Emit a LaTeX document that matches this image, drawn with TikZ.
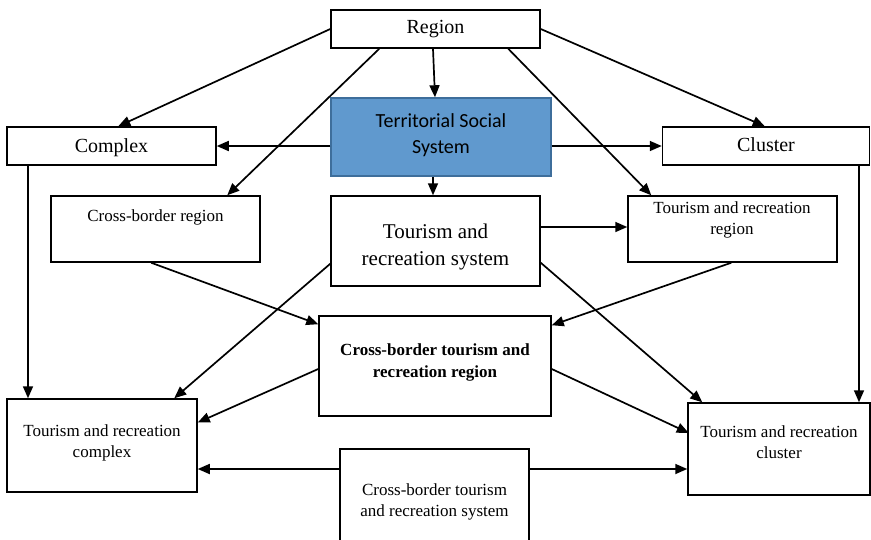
\documentclass[tikz,border=0pt]{standalone}
\usepackage{fontspec}
\setmainfont{Liberation Serif}
\newfontfamily\calibri{Carlito}
\usetikzlibrary{arrows.meta,calc}
\definecolor{tssfill}{RGB}{96,153,206}
\definecolor{tssdraw}{RGB}{62,110,155}
\begin{document}
\begin{tikzpicture}[x=1pt,y=-1pt,
  box/.style={draw=black,line width=1.5pt,rectangle,inner sep=0pt,anchor=center},
  txt/.style={inner sep=0pt,anchor=base,align=center},
  big/.style={font=\fontsize{20}{26}\selectfont},
  mid/.style={font=\fontsize{21}{27}\selectfont},
  small/.style={font=\fontsize{17}{21}\selectfont},
  conn/.style={line width=1.7pt,-{Triangle[length=12pt,width=10pt]}}]
\useasboundingbox (0,0) rectangle (871,539);
\clip (0,0) rectangle (871,539);
% boxes
\node[box,minimum width=209pt,minimum height=38pt] (region) at (435.5,29) {};
\node[box,fill=tssfill,draw=tssdraw,minimum width=220pt,minimum height=78pt] (tss) at (441,137) {};
\node[box,minimum width=209pt,minimum height=38pt] (complex) at (111.5,146) {};
\node[box,minimum width=207pt,minimum height=38pt] (cluster) at (766,146) {};
\node[box,minimum width=209pt,minimum height=66pt] (cbregion) at (155.5,229) {};
\node[box,minimum width=209pt,minimum height=66pt] (trregion) at (732.5,229) {};
\node[box,minimum width=209pt,minimum height=90pt] (trsystem) at (435.5,241) {};
\node[box,minimum width=232pt,minimum height=100pt] (cbtrregion) at (435,366) {};
\node[box,minimum width=190pt,minimum height=93pt] (trcomplex) at (102,445.5) {};
\node[box,minimum width=182pt,minimum height=92pt] (trcluster) at (779,449) {};
\node[box,minimum width=189pt,minimum height=100pt] (cbtrsystem) at (434.5,499) {};
% texts (base anchor = last line baseline)
\node[txt,big] (tregion) at (435.5,33) {Region};
\node[txt,font=\calibri\fontsize{20}{26}\selectfont] (ttss) at (441,153) {Territorial Social\\System};
\node[txt,big] (tcomplex) at (111.5,152) {Complex};
\node[txt,big] (tcluster) at (766,151) {Cluster};
\node[txt,small] (tcbregion) at (155.5,221) {Cross-border region};
\node[txt,small] (ttrregion) at (732,234) {Tourism and recreation\\region};
\node[txt,mid] (ttrsystem) at (435.5,265) {Tourism and\\recreation system};
\node[txt,font=\bfseries\fontsize{17}{22}\selectfont] (tcbtrregion) at (435,377) {Cross-border tourism and\\recreation region};
\node[txt,small] (ttrcomplex) at (102,457) {Tourism and recreation\\complex};
\node[txt,small] (ttrcluster) at (779,458) {Tourism and recreation\\cluster};
\node[txt,small] (tcbtrsystem) at (434.5,516) {Cross-border tourism\\and recreation system};
% connectors
\draw[conn] (region.west) -- ($(complex.north west)+(112,0)$);
\draw[conn] ($(region.south west)+(49,0)$) -- ($(cbregion.north west)+(177,0)$);
\draw[conn] ($(region.south)+(-2.5,0)$) -- ($(tss.north)+(-6,0)$);
\draw[conn] ($(region.south west)+(178,0)$) -- ($(trregion.north west)+(24,0)$);
\draw[conn] (region.east) -- ($(cluster.north west)+(103,0)$);
\draw[conn] (tss.west |- complex.east) -- (complex.east);
\draw[conn] (tss.east |- cluster.west) -- (cluster.west);
\draw[conn] ($(tss.south)+(-8,0)$) -- ($(trsystem.north)+(-2.5,0)$);
\draw[conn] ($(trsystem.east)+(0,-14)$) -- ($(trregion.west)+(0,-2)$);
\draw[conn] ($(cbregion.south west)+(101,0)$) -- ($(cbtrregion.north west)+(0,9)$);
\draw[conn] ($(trregion.south west)+(104,0)$) -- ($(cbtrregion.north east)+(0,10)$);
\draw[conn] ($(trsystem.south west)+(0,-23)$) -- ($(trcomplex.north west)+(168,0)$);
\draw[conn] ($(trsystem.south east)+(0,-24)$) -- ($(trcluster.north west)+(15,0)$);
\draw[conn] ($(cbtrregion.west)+(0,3)$) -- ($(trcomplex.east)+(0,-23)$);
\draw[conn] ($(cbtrregion.east)+(0,3)$) -- ($(trcluster.east)+(-182,-16)$);
\draw[conn] (complex.south -| 28,0) -- (trcomplex.north -| 28,0);
\draw[conn] (cluster.south -| 859,0) -- (trcluster.north -| 859,0);
\draw[conn] (cbtrsystem.west |- 0,469) -- (trcomplex.east |- 0,469);
\draw[conn] (cbtrsystem.east |- 0,469) -- (trcluster.west |- 0,469);
\end{tikzpicture}
\end{document}
